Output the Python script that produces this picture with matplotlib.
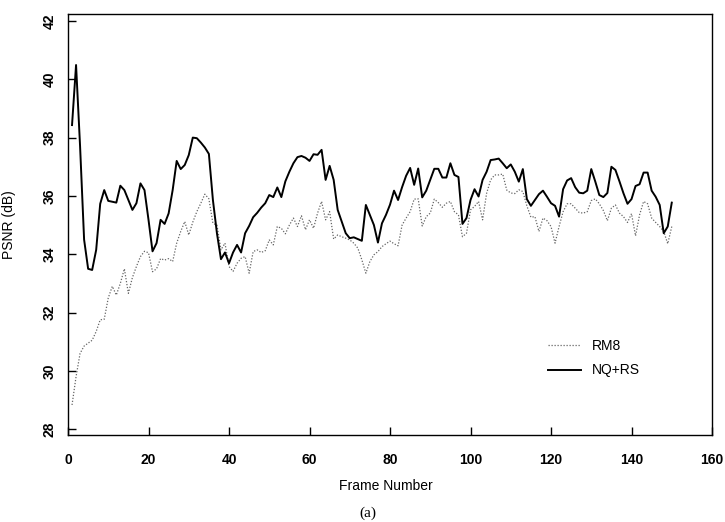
"""
PSNR per frame: RM8 vs NQ+RS.
Run: python plot.py
"""

import numpy as np
import matplotlib
matplotlib.use("Agg")
import matplotlib.pyplot as plt

plt.rcParams.update({
    "font.family": ["Liberation Sans Narrow", "Liberation Sans", "DejaVu Sans"],
    "axes.linewidth": 1.0,
})

frames = np.arange(1, 151)

nq_rs = [
    38.43, 40.49, 37.70, 34.50, 33.50, 33.46, 34.15, 35.73, 36.20, 35.83,
    35.80, 35.77, 36.35, 36.20, 35.86, 35.52, 35.75, 36.43, 36.20, 35.18,
    34.10, 34.38, 35.18, 35.04, 35.40, 36.20, 37.20, 36.92, 37.06, 37.40,
    38.00, 37.98, 37.83, 37.66, 37.44, 35.86, 34.72, 33.83, 34.06, 33.69,
    34.06, 34.32, 34.06, 34.72, 34.97, 35.27, 35.42, 35.60, 35.75, 36.03,
    35.96, 36.29, 35.96, 36.50, 36.83, 37.12, 37.33, 37.37, 37.31, 37.20,
    37.43, 37.41, 37.58, 36.55, 37.03, 36.55, 35.52, 35.12, 34.72, 34.55,
    34.58, 34.52, 34.46, 35.69, 35.35, 35.00, 34.40, 35.06, 35.35, 35.70,
    36.18, 35.86, 36.30, 36.69, 36.96, 36.38, 36.94, 35.95, 36.18, 36.55,
    36.93, 36.93, 36.63, 36.63, 37.12, 36.72, 36.65, 35.04, 35.24, 35.86,
    36.23, 35.98, 36.55, 36.83, 37.23, 37.25, 37.28, 37.12, 36.95, 37.08,
    36.83, 36.49, 36.92, 35.89, 35.66, 35.86, 36.06, 36.18, 35.97, 35.75,
    35.66, 35.29, 36.23, 36.53, 36.61, 36.30, 36.11, 36.09, 36.18, 36.92,
    36.49, 36.03, 35.96, 36.10, 37.00, 36.89, 36.50, 36.09, 35.73, 35.89,
    36.34, 36.40, 36.80, 36.80, 36.18, 35.97, 35.69, 34.72, 34.95, 35.77,
]

rm8 = [
    28.83, 29.80, 30.60, 30.85, 30.95, 31.05, 31.35, 31.75, 31.77, 32.50,
    32.90, 32.60, 33.00, 33.50, 32.66, 33.20, 33.58, 33.92, 34.10, 34.05,
    33.40, 33.50, 33.85, 33.80, 33.85, 33.75, 34.38, 34.78, 35.12, 34.66,
    35.10, 35.46, 35.75, 36.06, 35.90, 35.06, 35.00, 34.15, 34.38, 33.58,
    33.41, 33.69, 33.86, 33.92, 33.35, 34.09, 34.15, 34.06, 34.12, 34.49,
    34.32, 34.95, 34.89, 34.70, 35.00, 35.24, 34.95, 35.32, 34.84, 35.18,
    34.89, 35.41, 35.81, 35.18, 35.46, 34.52, 34.66, 34.60, 34.55, 34.49,
    34.38, 34.21, 33.81, 33.35, 33.75, 33.98, 34.09, 34.26, 34.36, 34.45,
    34.36, 34.29, 35.00, 35.24, 35.46, 35.89, 35.90, 34.97, 35.29, 35.41,
    35.89, 35.77, 35.61, 35.75, 35.81, 35.46, 35.35, 34.60, 34.72, 35.52,
    35.64, 35.81, 35.18, 36.09, 36.55, 36.72, 36.72, 36.75, 36.20, 36.10,
    36.08, 36.21, 36.15, 35.66, 35.27, 35.29, 34.78, 35.24, 35.15, 34.95,
    34.38, 34.95, 35.46, 35.73, 35.73, 35.58, 35.43, 35.41, 35.46, 35.84,
    35.90, 35.73, 35.50, 35.15, 35.58, 35.69, 35.41, 35.29, 35.09, 35.39,
    34.63, 35.35, 35.81, 35.73, 35.24, 35.09, 34.95, 34.78, 34.36, 34.95,
]

x_ticks = [0, 20, 40, 60, 80, 100, 120, 140, 160]
y_ticks = [28, 30, 32, 34, 36, 38, 40, 42]

fig = plt.figure(figsize=(7.25, 5.22), dpi=100)
ax = fig.add_axes([0.0938, 0.1667, 0.8883, 0.8065])

ax.plot(frames, rm8, color="#666666", linewidth=0.9, linestyle=(0, (1, 1.4)),
        label="RM8")
ax.plot(frames, nq_rs, color="black", linewidth=1.4, label="NQ+RS")

ax.set_xlim(0, 160)
ax.set_ylim(27.8, 42.24)
ax.set_xticks(x_ticks)
ax.set_yticks(y_ticks)
ax.tick_params(direction="in", length=6, width=1.0, top=False, right=False)
ax.tick_params(axis="x", pad=13, labelsize=10)
ax.tick_params(axis="y", pad=8, labelsize=10, labelrotation=90)
for lbl in ax.get_xticklabels() + ax.get_yticklabels():
    lbl.set_fontweight("bold")
for lbl in ax.get_yticklabels():
    lbl.set_va("center")

fig.text(0.532, 0.069, "Frame Number", ha="center", va="center", fontsize=10)
fig.text(0.012, 0.57, "PSNR (dB)", ha="center", va="center", rotation=90,
         fontsize=10)
fig.text(0.508, 0.017, "(a)", ha="center", va="center", fontsize=11,
         family=["Liberation Serif", "DejaVu Serif"])

ax.legend(loc="upper left", bbox_to_anchor=(0.745, 0.228), frameon=False,
          fontsize=10, handlelength=2.4, handletextpad=0.75, labelspacing=0.75,
          borderaxespad=0, borderpad=0)

fig.savefig("out.png", dpi=100)
